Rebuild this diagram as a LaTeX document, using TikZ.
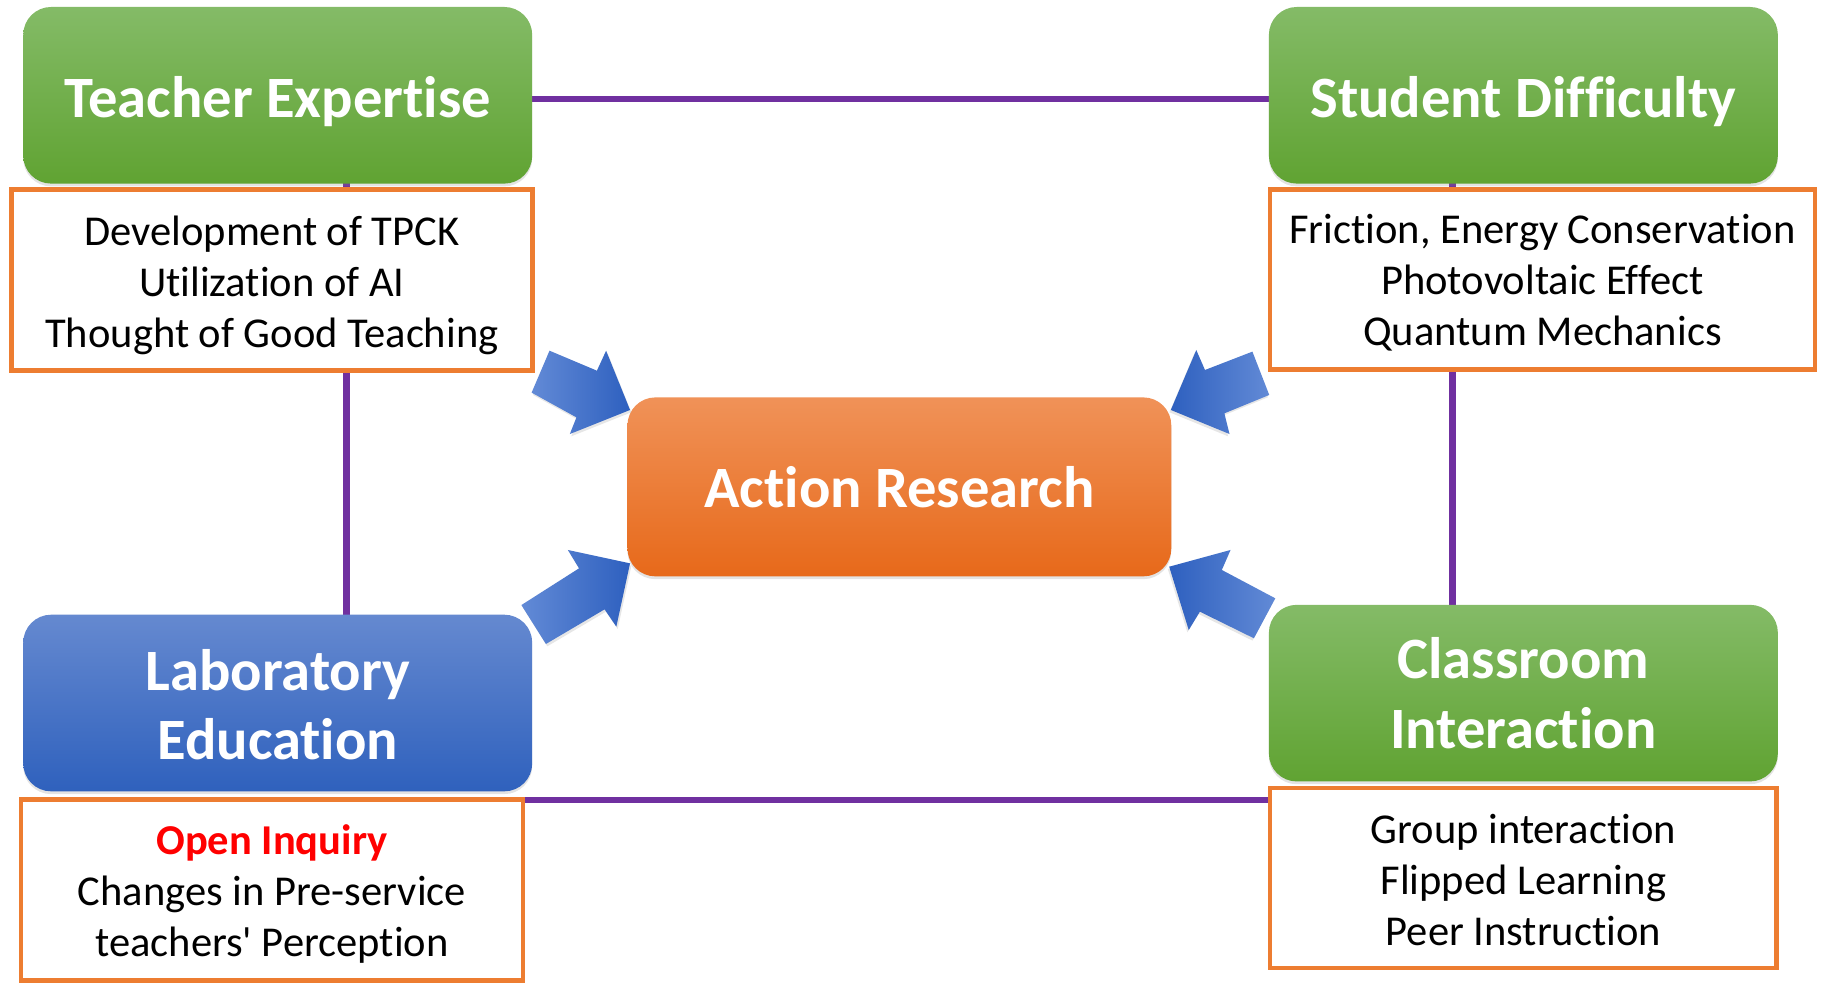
\documentclass[tikz,border=0pt]{standalone}
\usepackage{fontspec}
\setmainfont{Carlito}[Ligatures=NoCommon]
\usetikzlibrary{backgrounds,shadows}
\definecolor{grTop}{HTML}{84BB67}
\definecolor{grBot}{HTML}{60A332}
\definecolor{blTop}{HTML}{6589D0}
\definecolor{blBot}{HTML}{2F61BD}
\definecolor{orTop}{HTML}{F09258}
\definecolor{orBot}{HTML}{E7691A}
\definecolor{orBorder}{HTML}{ED7D31}
\definecolor{purp}{HTML}{7030A0}
\definecolor{arL}{HTML}{628AD6}
\definecolor{arD}{HTML}{2E60BF}
\begin{document}
\begin{tikzpicture}[x=0.5pt,y=-0.5pt,
  head/.style={rounded corners=12pt, minimum width=219pt, minimum height=76pt,
    text=white, font=\fontsize{25.2}{30}\selectfont\bfseries, align=center, inner sep=0pt,
    drop shadow={opacity=0.22, shadow xshift=0pt, shadow yshift=-1.2pt}},
  greenbox/.style={head, top color=grTop, bottom color=grBot},
  bluebox/.style={head, top color=blTop, bottom color=blBot},
  orangebox/.style={head, top color=orTop, bottom color=orBot},
  listbox/.style={draw=orBorder, line width=2pt, fill=white, align=center,
    font=\fontsize{18.3}{22}\selectfont, inner sep=0pt},
  conn/.style={draw=purp, line width=2.8pt},
  barrowL/.style={left color=arL, right color=arD,
    drop shadow={opacity=0.2, shadow xshift=0.6pt, shadow yshift=-1pt}},
  barrowR/.style={left color=arD, right color=arL,
    drop shadow={opacity=0.2, shadow xshift=-0.6pt, shadow yshift=-1pt}}
]
\useasboundingbox (0,0) rectangle (1568,846);

% header boxes
\node[greenbox] (te) at (239,82) {\rule{0pt}{23pt}Teacher Expertise};
\node[greenbox] (sd) at (1311,82) {\rule{0pt}{23pt}Student Difficulty};
\node[bluebox] (le) at (239,605) {\rule{0pt}{19pt}Laboratory\\Education};
\node[greenbox] (ci) at (1311,596.5) {Classroom\\Interaction};
\node[orangebox, minimum width=234pt, minimum height=77pt] (ar) at (774,419) {Action Research};

% list boxes
\node[listbox, minimum width=224pt, minimum height=78pt] (teL) at (234,241)
  {\rule{0pt}{17.5pt}Development of TPCK\\Utilization of AI\\Thought of Good Teaching};
\node[listbox, minimum width=234.5pt, minimum height=77.5pt] (sdL) at (1327.5,240.5)
  {\rule{0pt}{15.5pt}Friction, Energy Conservation\\Photovoltaic Effect\\Quantum Mechanics};
\node[listbox, minimum width=216pt, minimum height=78pt] (leL) at (234,766)
  {\rule{0pt}{16pt}\textcolor{red}{\bfseries Open Inquiry}\\Changes in Pre-service\\teachers\textquotesingle{} Perception};
\node[listbox, minimum width=218pt, minimum height=77.5pt] (ciL) at (1311,755.5)
  {\rule{0pt}{14.5pt}Group interaction\\Flipped Learning\\Peer Instruction};

% purple connectors behind
\begin{pgfonlayer}{background}
\draw[conn] ([yshift=-1.5pt]te.center) -- ([yshift=-1.5pt]sd.center);
\draw[conn] ([xshift=29.5pt]te.center) -- ([xshift=29.5pt]le.center);
\draw[conn] ([xshift=-30.5pt]sd.center) -- ([xshift=-30.5pt]ci.center);
\draw[conn] ([yshift=-1.2pt]leL.north) -- ([yshift=-1.2pt]leL.north -| ciL.center);
\end{pgfonlayer}

% block arrows
\shade[barrowL] (472.9,301.8) -- (513.7,319) -- (521.6,301.8) -- (542.2,352.8)
  -- (490.4,373.5) -- (496.1,359.2) -- (457.5,337.9) -- cycle;
\shade[barrowR] (1077.8,302.6) -- (1037,318.4) -- (1029.5,301.2) -- (1007.6,352.8)
  -- (1058.1,373.5) -- (1053.7,355.7) -- (1092.3,339.9) -- cycle;
\shade[barrowL] (448.7,520.7) -- (498.3,489.1) -- (488.7,473.3) -- (542.2,484.8)
  -- (530.4,539.3) -- (520.3,524.4) -- (469.8,554.2) -- cycle;
\shade[barrowR] (1097.5,514.9) -- (1051.5,490.5) -- (1059,473.3) -- (1006.2,487.7)
  -- (1023,542.2) -- (1032.6,526.4) -- (1079.1,549.3) -- cycle;
\end{tikzpicture}
\end{document}
